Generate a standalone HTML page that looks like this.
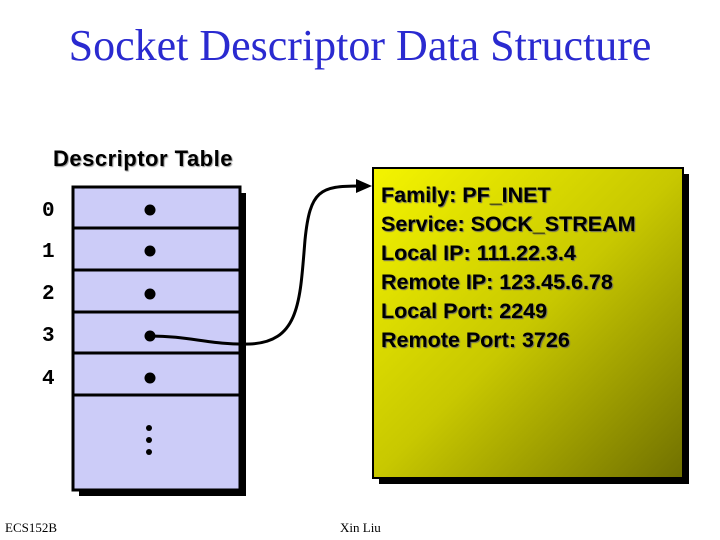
<!DOCTYPE html>
<html><head><style>
body{margin:0;width:720px;height:540px;background:#fff;position:relative;overflow:hidden;font-family:"Liberation Sans",sans-serif}
.t{position:absolute;white-space:nowrap}
</style></head><body>
<div class="t" style="left:0;width:720px;top:20px;text-align:center;font-family:'Liberation Serif',serif;font-size:44px;color:#2a2ad0">Socket Descriptor Data Structure</div>
<div class="t" style="left:53px;top:146px;font-size:22px;font-weight:bold;text-shadow:1px 1px 1px #999;letter-spacing:0.5px">Descriptor Table</div>
<svg width="720" height="540" style="position:absolute;left:0;top:0">
<defs><linearGradient id="g" x1="0" y1="0" x2="1" y2="1">
<stop offset="0" stop-color="#f4f400"/><stop offset="0.5" stop-color="#c8c800"/><stop offset="1" stop-color="#707000"/></linearGradient></defs>
<rect x="79" y="193" width="167" height="303" fill="#000"/>
<rect x="73" y="187" width="167" height="303" fill="#ccccf8" stroke="#000" stroke-width="3"/>
<g stroke="#000" stroke-width="3">
<line x1="73" y1="228" x2="240" y2="228"/><line x1="73" y1="270" x2="240" y2="270"/>
<line x1="73" y1="312" x2="240" y2="312"/><line x1="73" y1="353" x2="240" y2="353"/>
<line x1="73" y1="395" x2="240" y2="395"/></g>
<g fill="#000"><circle cx="150" cy="210" r="5.5"/><circle cx="150" cy="251" r="5.5"/><circle cx="150" cy="294" r="5.5"/>
<circle cx="150" cy="336" r="5.5"/><circle cx="150" cy="378" r="5.5"/>
<circle cx="149" cy="428" r="3"/><circle cx="149" cy="440" r="3"/><circle cx="149" cy="452" r="3"/></g>
<g font-family="Liberation Mono" font-weight="bold" font-size="21" fill="#000">
<text x="42" y="216">0</text><text x="42" y="257">1</text><text x="42" y="299">2</text><text x="42" y="341">3</text><text x="42" y="384">4</text></g>
<rect x="379" y="174" width="310" height="310" fill="#000"/>
<rect x="373" y="168" width="310" height="310" fill="url(#g)" stroke="#000" stroke-width="2"/>
<path d="M150 336 C190 336,210 345,250 344 C300 342,300 300,305 240 C310 190,320 186,360 186" fill="none" stroke="#000" stroke-width="3"/>
<polygon points="372,186 356,179 356,193" fill="#000"/>
<g font-family="Liberation Sans" font-weight="bold" font-size="21.5" fill="#000" xml:space="preserve" style="text-shadow:1px 1px 1px #666;white-space:pre">
<text x="381" y="202">Family:  PF_INET</text>
<text x="381" y="231">Service:  SOCK_STREAM</text>
<text x="381" y="260">Local IP:  111.22.3.4</text>
<text x="381" y="289">Remote IP:  123.45.6.78</text>
<text x="381" y="318">Local Port:  2249</text>
<text x="381" y="347">Remote Port:  3726</text></g>
<g font-family="Liberation Serif" font-size="13" fill="#000">
<text x="5" y="532">ECS152B</text><text x="340" y="532">Xin Liu</text></g>
</svg>
</body></html>
